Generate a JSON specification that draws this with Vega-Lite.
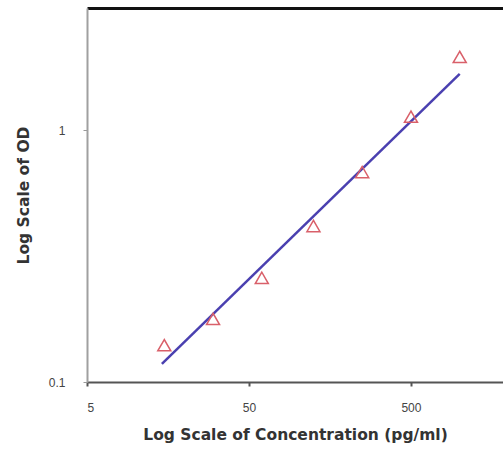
{
  "$schema": "https://vega.github.io/schema/vega-lite/v6.json",
  "width": 416,
  "height": 374,
  "autosize": {"type": "none"},
  "padding": {"left": 87, "top": 8, "right": 0, "bottom": 68},
  "background": "white",
  "config": {
    "view": {"stroke": null},
    "font": "Liberation Sans"
  },
  "datasets": {
    "points": [
      {"conc": 15, "od": 0.14},
      {"conc": 30, "od": 0.178},
      {"conc": 60, "od": 0.259},
      {"conc": 125, "od": 0.416},
      {"conc": 250, "od": 0.681},
      {"conc": 500, "od": 1.13},
      {"conc": 1000, "od": 1.95}
    ],
    "fit": [
      {"conc": 14.5, "od": 0.118},
      {"conc": 1000, "od": 1.67}
    ]
  },
  "layer": [
    {
      "data": {"name": "fit"},
      "mark": {"type": "line", "color": "#4a40b0", "strokeWidth": 2.5},
      "encoding": {
        "x": {
          "field": "conc", "type": "quantitative",
          "scale": {"type": "log", "domain": [5, 1850], "nice": false},
          "axis": {
            "orient": "top", "title": null, "labels": false, "ticks": false, "grid": false,
            "domainColor": "#111111", "domainWidth": 3
          }
        },
        "y": {
          "field": "od", "type": "quantitative",
          "scale": {"type": "log", "domain": [0.1, 3.05], "nice": false},
          "axis": {
            "values": [0.1, 1], "format": "~g", "title": "Log Scale of OD",
            "titleFont": "DejaVu Sans", "titleFontSize": 15.5, "titleFontWeight": "bold",
            "titleColor": "#333333", "titlePadding": 17,
            "labelFont": "Liberation Sans", "labelFontSize": 12, "labelColor": "#444444",
            "labelPadding": 18, "tickSize": 4, "tickColor": "#999999",
            "domainColor": "#a0a0a0", "domainWidth": 2, "grid": false
          }
        }
      }
    },
    {
      "data": {"name": "points"},
      "mark": {"type": "point", "shape": "triangle-up", "filled": false, "size": 170, "stroke": "#d9606a", "strokeWidth": 1.5, "opacity": 1},
      "encoding": {
        "x": {
          "field": "conc", "type": "quantitative",
          "scale": {"type": "log", "domain": [5, 1850], "nice": false},
          "axis": {
            "orient": "bottom", "values": [5, 50, 500], "format": "~g",
            "title": "Log Scale of Concentration (pg/ml)",
            "titleFont": "DejaVu Sans", "titleFontSize": 15.5, "titleFontWeight": "bold",
            "titleColor": "#333333", "titlePadding": 14,
            "labelFont": "Liberation Sans", "labelFontSize": 12, "labelColor": "#444444",
            "labelPadding": 16, "tickSize": 4, "tickColor": "#555555", "tickWidth": 2,
            "domainColor": "#555555", "domainWidth": 2, "grid": false
          }
        },
        "y": {"field": "od", "type": "quantitative"}
      }
    }
  ],
  "resolve": {"axis": {"x": "independent"}}
}
